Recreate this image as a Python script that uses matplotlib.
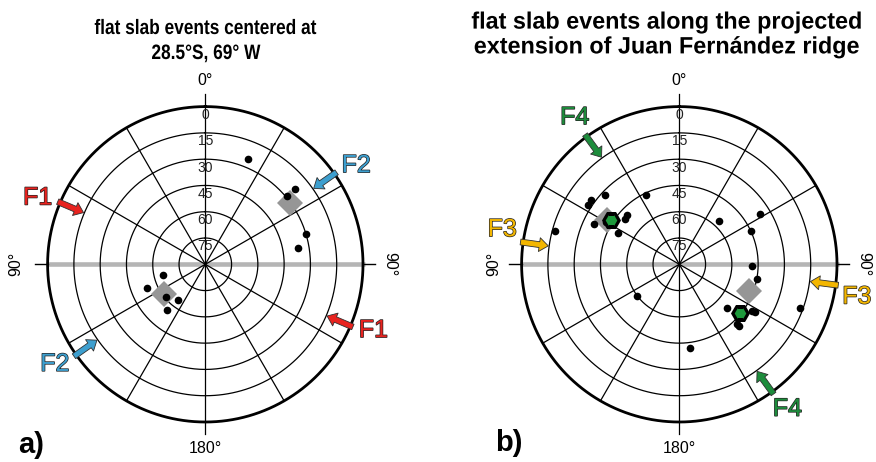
import numpy as np
import matplotlib
matplotlib.use('Agg')
import matplotlib.pyplot as plt
import matplotlib.patheffects as pe
from matplotlib.transforms import Affine2D

plt.rcParams['font.family'] = ['Liberation Sans', 'DejaVu Sans']

# --- data: azimuth (deg, clockwise from N) and plunge (deg, 0 = rim, 90 = centre)
left_az = [22, 50, 50, 73, 80, 256, 248, 230, 217, 220]
left_plunge = [25, 23, 29, 30, 36, 65, 54, 61, 64.5, 56]
left_diamond_az = [54, 234]
left_diamond_plunge = [30, 61]

right_az = [334, 313, 306, 303, 313, 310, 295, 297, 285, 300, 306,
            42, 58, 65, 91, 101, 110, 173, 233, 132, 122, 123, 136, 136]
right_plunge = [46, 32, 28, 28, 49, 49.5, 36, 51, 16.5, 42, 44,
                56.5, 35.5, 45, 48.7, 44.7, 16.7, 42, 60, 53, 39, 40.7, 41, 43]
right_diamond_az = [301.4, 110.9]
right_diamond_plunge = [41.5, 47.3]
right_hex_az = [303, 128.6]
right_hex_plunge = [43.5, 45.7]

# arrows: azimuth of arrow, label, colour
left_arrow_az = [293, 113, 55, 235]
left_arrow_lbl = ['F1', 'F1', 'F2', 'F2']
left_lbl_az = [291.7, 111.4, 56.7, 236.5]
left_arrow_col = ['#e8231f', '#e8231f', '#3d9fcf', '#3d9fcf']

right_arrow_az = [324, 144, 278, 97.5]
right_arrow_lbl = ['F4', 'F4', 'F3', 'F3']
right_lbl_az = [324.6, 143.2, 281.2, 100.3]
right_arrow_col = ['#1d8c3c', '#1d8c3c', '#f3b600', '#f3b600']

ring_plunges = [15, 30, 45, 60, 75]
ring_labels = [0, 15, 30, 45, 60, 75]
spoke_az = [30, 60, 120, 150, 210, 240, 300, 330]

W, H = 876, 462
R = 157.7
fig = plt.figure(figsize=(W / 100, H / 100), dpi=100)


class Narrow(pe.AbstractPathEffect):
    # squeeze text horizontally around x = cx (pixels), like a narrow face
    def __init__(self, sx, cx):
        super().__init__()
        self.t = Affine2D().translate(-cx, 0).scale(sx, 1).translate(cx, 0)

    def draw_path(self, renderer, gc, tpath, affine, rgbFace=None):
        renderer.draw_path(gc, tpath, affine + self.t, rgbFace)


def make_net(cx, cy, left_90_r=106):
    ax = fig.add_axes([(cx - R) / W, (H - cy - R) / H, 2 * R / W, 2 * R / H],
                      projection='polar')
    ax.set_theta_zero_location('N')
    ax.set_theta_direction(-1)
    ax.set_ylim(0, 90)
    ax.axis('off')
    full = np.linspace(0, 2 * np.pi, 361)
    # grey 90-270 line
    for a in [90, 270]:
        ax.plot([np.deg2rad(a)] * 2, [0, 91], color='#b5b5b5', lw=3.3,
                zorder=1, clip_on=False, solid_capstyle='butt')
        ax.plot([np.deg2rad(a)] * 2, [90, 97], color='k', lw=1.0,
                zorder=2, clip_on=False)
    for a in [0, 180]:
        ax.plot([np.deg2rad(a)] * 2, [0, 97], color='k', lw=0.9,
                zorder=2, clip_on=False)
    for a in spoke_az:
        ax.plot([np.deg2rad(a)] * 2, [0, 90], color='k', lw=0.9, zorder=2)
    for p in ring_plunges:
        ax.plot(full, np.full_like(full, 90 - p), color='k', lw=0.9, zorder=2)
    ax.plot(full, np.full_like(full, 90), color='k', lw=2.0, zorder=2,
            clip_on=False)
    for p in ring_labels:
        ax.text(0, 90 - p - 0.8, str(p), ha='center', va='top', fontsize=10,
                color='#222222', zorder=6)
    ax.text(0, 105, '0°', ha='center', va='center', fontsize=11.5)
    ax.text(np.pi, 105, '180°', ha='center', va='center', fontsize=11.5)
    ax.text(np.deg2rad(270), left_90_r, '90°', ha='center', va='center',
            fontsize=11.5, rotation=90)
    ax.text(np.deg2rad(90), 105, '90°', ha='center', va='center',
            fontsize=11.5, rotation=-90)
    return ax


def add_arrows(ax, az, lbl_az, lbls, cols):
    for a, la, t, c in zip(az, lbl_az, lbls, cols):
        th = np.deg2rad(a)
        ax.annotate('', xy=(th, 75.5), xytext=(th, 91.5),
                    arrowprops=dict(arrowstyle='simple,head_length=0.65,head_width=1.0,tail_width=0.42',
                                    fc=c, ec='#303030', lw=0.6,
                                    shrinkA=0, shrinkB=0, mutation_scale=10),
                    annotation_clip=False, zorder=7)
        ax.text(np.deg2rad(la), 103, t, color=c, fontsize=18, ha='center',
                va='center', zorder=8, clip_on=False,
                path_effects=[pe.withStroke(linewidth=1.0, foreground='#222222')])


def r_of(pl):
    return 90 - np.asarray(pl, dtype=float)


# ---- left net
axl = make_net(205.3, 264.3, left_90_r=108)
axl.plot(np.deg2rad(left_diamond_az), r_of(left_diamond_plunge), 'D',
         color='#969696', ms=13, mew=0, zorder=3)
axl.plot(np.deg2rad(left_az), r_of(left_plunge), 'o', color='k', ms=5.5,
         mew=0, zorder=4)
add_arrows(axl, left_arrow_az, left_lbl_az, left_arrow_lbl, left_arrow_col)

# ---- right net
axr = make_net(679.3, 264.3)
axr.plot(np.deg2rad(right_diamond_az), r_of(right_diamond_plunge), 'D',
         color='#969696', ms=13, mew=0, zorder=3)
axr.plot(np.deg2rad(right_az), r_of(right_plunge), 'o', color='k', ms=5.5,
         mew=0, zorder=4)
axr.plot(np.deg2rad(right_hex_az), r_of(right_hex_plunge), 'H',
         mfc='#1e9a3c', mec='k', ms=11, mew=2.3, zorder=5)
add_arrows(axr, right_arrow_az, right_lbl_az, right_arrow_lbl, right_arrow_col)

# ---- titles and panel letters
fig.text(206 / W, 1 - 41 / H, 'flat slab events centered at\n28.5°S, 69° W',
         ha='center', va='center', fontsize=15, fontweight='bold',
         linespacing=1.4, path_effects=[Narrow(0.83, 206)])
fig.text(667 / W, 1 - 34.5 / H,
         'flat slab events along the projected\nextension of Juan Fernández ridge',
         ha='center', va='center', fontsize=17, fontweight='bold',
         linespacing=1.1, path_effects=[Narrow(0.99, 667)])
fig.text(31 / W, 1 - 445 / H, 'a)', ha='center', va='center', fontsize=21,
         fontweight='bold')
fig.text(509 / W, 1 - 443 / H, 'b)', ha='center', va='center', fontsize=21,
         fontweight='bold')

fig.savefig('out.png', dpi=100)
